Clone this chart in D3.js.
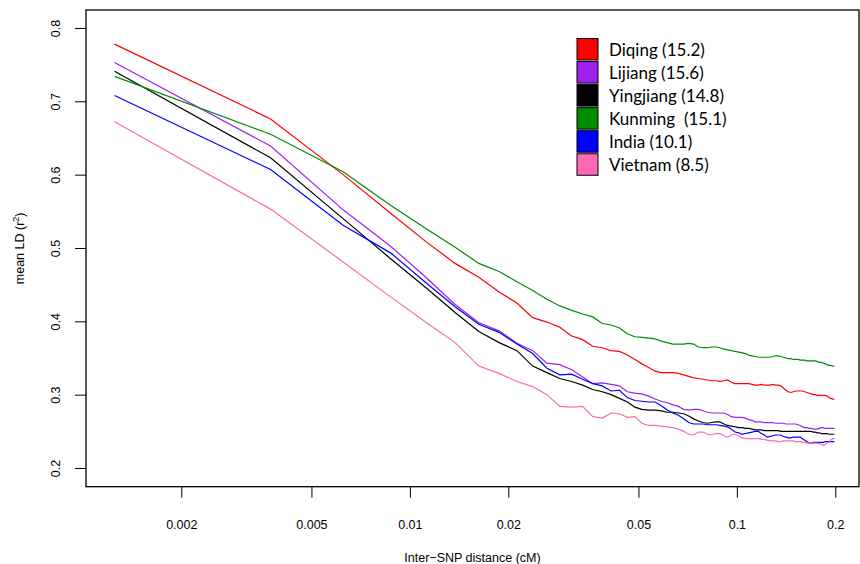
<!doctype html>
<html>
  <head>
    <script src="https://d3js.org/d3.v7.min.js"></script>
    <style>
      body { margin: 0; background: #fff; }
      text { font-family: "Liberation Sans", Arial, sans-serif; fill: #000; }
      .legend text { font-family: Lato, "Open Sans", sans-serif; white-space: pre; }
    </style>
  </head>

  <body>
    <svg class="chart" width=860 height=564></svg>

    <script>
      // bin midpoints (cM)
      var distances = [
        0.00125, 0.00375, 0.00625, 0.00875, 0.01125, 0.01375, 0.01625, 0.01875, 0.02125, 0.02375,
        0.02625, 0.02875, 0.03125, 0.03375, 0.03625, 0.03875, 0.04125, 0.04375, 0.04625, 0.04875,
        0.05125, 0.05375, 0.05625, 0.05875, 0.06125, 0.06375, 0.06625, 0.06875, 0.07125, 0.07375,
        0.07625, 0.07875, 0.08125, 0.08375, 0.08625, 0.08875, 0.09125, 0.09375, 0.09625, 0.09875,
        0.10125, 0.10375, 0.10625, 0.10875, 0.11125, 0.11375, 0.11625, 0.11875, 0.12125, 0.12375,
        0.12625, 0.12875, 0.13125, 0.13375, 0.13625, 0.13875, 0.14125, 0.14375, 0.14625, 0.14875,
        0.15125, 0.15375, 0.15625, 0.15875, 0.16125, 0.16375, 0.16625, 0.16875, 0.17125, 0.17375,
        0.17625, 0.17875, 0.18125, 0.18375, 0.18625, 0.18875, 0.19125, 0.19375, 0.19625, 0.19875
      ];

      var diqing = [
        0.778, 0.676, 0.600, 0.547, 0.508, 0.479, 0.460, 0.440, 0.425, 0.405,
        0.399, 0.392, 0.380, 0.375, 0.366, 0.364, 0.360, 0.359, 0.354, 0.348,
        0.342, 0.337, 0.332, 0.330, 0.330, 0.330, 0.329, 0.327, 0.325, 0.323,
        0.322, 0.321, 0.320, 0.319, 0.319, 0.318, 0.319, 0.320, 0.317, 0.315,
        0.315, 0.315, 0.315, 0.315, 0.314, 0.313, 0.313, 0.314, 0.313, 0.313,
        0.313, 0.314, 0.313, 0.313, 0.312, 0.309, 0.306, 0.304, 0.303, 0.304,
        0.305, 0.305, 0.305, 0.305, 0.304, 0.303, 0.302, 0.301, 0.300, 0.300,
        0.299, 0.299, 0.299, 0.299, 0.299, 0.298, 0.296, 0.295, 0.294, 0.294
      ];
      var lijiang = [
        0.753, 0.639, 0.552, 0.502, 0.459, 0.423, 0.398, 0.387, 0.370, 0.360,
        0.343, 0.341, 0.334, 0.324, 0.315, 0.316, 0.314, 0.312, 0.304, 0.302,
        0.301, 0.298, 0.294, 0.291, 0.289, 0.286, 0.284, 0.280, 0.279, 0.280,
        0.280, 0.278, 0.276, 0.275, 0.275, 0.275, 0.275, 0.273, 0.270, 0.269,
        0.269, 0.269, 0.268, 0.266, 0.265, 0.263, 0.263, 0.263, 0.262, 0.262,
        0.262, 0.262, 0.261, 0.261, 0.261, 0.261, 0.260, 0.260, 0.260, 0.260,
        0.260, 0.259, 0.258, 0.256, 0.255, 0.255, 0.254, 0.254, 0.253, 0.253,
        0.253, 0.254, 0.255, 0.255, 0.254, 0.254, 0.254, 0.254, 0.254, 0.254
      ];
      var yingjiang = [
        0.741, 0.623, 0.540, 0.485, 0.445, 0.412, 0.386, 0.371, 0.360, 0.339,
        0.330, 0.322, 0.318, 0.313, 0.307, 0.304, 0.300, 0.295, 0.290, 0.283,
        0.280, 0.279, 0.279, 0.278, 0.276, 0.276, 0.275, 0.274, 0.271, 0.267,
        0.264, 0.262, 0.261, 0.262, 0.263, 0.263, 0.260, 0.258, 0.257, 0.256,
        0.255, 0.255, 0.254, 0.254, 0.253, 0.252, 0.252, 0.252, 0.251, 0.251,
        0.251, 0.251, 0.251, 0.251, 0.250, 0.250, 0.250, 0.250, 0.250, 0.250,
        0.250, 0.250, 0.250, 0.250, 0.250, 0.250, 0.250, 0.250, 0.249, 0.249,
        0.248, 0.248, 0.247, 0.247, 0.247, 0.247, 0.246, 0.246, 0.246, 0.246
      ];
      var kunming = [
        0.734, 0.655, 0.604, 0.558, 0.526, 0.501, 0.479, 0.468, 0.454, 0.442,
        0.430, 0.421, 0.415, 0.410, 0.406, 0.397, 0.395, 0.391, 0.383, 0.379,
        0.378, 0.377, 0.376, 0.373, 0.371, 0.369, 0.369, 0.369, 0.370, 0.369,
        0.365, 0.364, 0.364, 0.365, 0.365, 0.364, 0.362, 0.361, 0.360, 0.359,
        0.358, 0.357, 0.356, 0.354, 0.353, 0.352, 0.351, 0.351, 0.351, 0.351,
        0.351, 0.352, 0.353, 0.353, 0.352, 0.351, 0.350, 0.349, 0.349, 0.348,
        0.348, 0.348, 0.347, 0.347, 0.347, 0.346, 0.346, 0.346, 0.346, 0.346,
        0.345, 0.344, 0.344, 0.343, 0.342, 0.341, 0.340, 0.340, 0.339, 0.339
      ];
      var india = [
        0.708, 0.607, 0.531, 0.493, 0.452, 0.420, 0.396, 0.385, 0.369, 0.356,
        0.336, 0.327, 0.328, 0.321, 0.315, 0.312, 0.305, 0.306, 0.296, 0.292,
        0.291, 0.290, 0.290, 0.285, 0.279, 0.275, 0.272, 0.267, 0.262, 0.260,
        0.260, 0.260, 0.259, 0.259, 0.259, 0.258, 0.257, 0.256, 0.253, 0.249,
        0.248, 0.246, 0.247, 0.248, 0.249, 0.250, 0.250, 0.247, 0.245, 0.242,
        0.243, 0.244, 0.245, 0.245, 0.245, 0.243, 0.242, 0.241, 0.241, 0.242,
        0.242, 0.242, 0.242, 0.240, 0.238, 0.236, 0.234, 0.234, 0.235, 0.235,
        0.235, 0.235, 0.235, 0.235, 0.236, 0.236, 0.236, 0.236, 0.236, 0.236
      ];
      var vietnam = [
        0.672, 0.553, 0.481, 0.433, 0.398, 0.371, 0.339, 0.329, 0.318, 0.311,
        0.300, 0.284, 0.283, 0.284, 0.270, 0.268, 0.275, 0.274, 0.269, 0.270,
        0.261, 0.258, 0.258, 0.257, 0.256, 0.255, 0.253, 0.250, 0.246, 0.245,
        0.249, 0.249, 0.246, 0.245, 0.247, 0.247, 0.244, 0.242, 0.245, 0.246,
        0.244, 0.241, 0.240, 0.240, 0.240, 0.240, 0.240, 0.239, 0.239, 0.238,
        0.237, 0.237, 0.237, 0.236, 0.236, 0.237, 0.237, 0.237, 0.237, 0.237,
        0.236, 0.236, 0.236, 0.235, 0.235, 0.234, 0.234, 0.234, 0.234, 0.234,
        0.234, 0.233, 0.232, 0.231, 0.232, 0.234, 0.235, 0.238, 0.240, 0.240
      ];

      var labels = ["Diqing (15.2)", "Lijiang (15.6)", "Yingjiang (14.8)", "Kunming  (15.1)", "India (10.1)", "Vietnam (8.5)"];
      var colors = ["#ff0000", "#a020f0", "#000000", "#008b00", "#0000ff", "#ff69b4"];
      var xTicks = [0.002, 0.005, 0.01, 0.02, 0.05, 0.1, 0.2];
      var yTicks = [0.2, 0.3, 0.4, 0.5, 0.6, 0.7, 0.8];

      function draw() {
        var seriesValues = [diqing, lijiang, yingjiang, kunming, india, vietnam];
        var series = seriesValues.map(function(vals, i) {
          return { label: labels[i], color: colors[i],
                   points: vals.map(function(v, j) { return [distances[j], v]; }) };
        });

        var svg = d3.select("svg"),
          pLeft = 86, pRight = 859, pTop = 10, pBottom = 486.7;

        var x = d3.scaleLog().domain([Math.pow(10, -2.9904), Math.pow(10, -0.6265)]).range([pLeft, pRight]);
        var y = d3.scaleLinear().domain([0.1745, 0.8245]).range([pBottom, pTop]);

        svg.append("rect").attr("width", 860).attr("height", 564).attr("fill", "#fff");

        // x axis
        var xa = svg.append("g")
          .attr("transform", "translate(0," + pBottom + ")")
          .call(d3.axisBottom(x).tickValues(xTicks).tickSize(11).tickPadding(22)
                .tickFormat(function(d){ return String(d); }));
        xa.select(".domain").remove();
        xa.selectAll("text").style("font-size", "12.5px").style("font-family", "Liberation Sans, Arial, sans-serif");

        // y axis, labels turned like R's las=0
        var ya = svg.append("g")
          .attr("transform", "translate(" + pLeft + ",0)")
          .call(d3.axisLeft(y).tickValues(yTicks).tickSize(11).tickFormat(d3.format(".1f")));
        ya.select(".domain").remove();
        ya.selectAll("text")
          .style("font-size", "12.5px").style("font-family", "Liberation Sans, Arial, sans-serif")
          .attr("x", null).attr("dy", null).attr("y", 0)
          .attr("text-anchor", "middle")
          .attr("transform", "translate(-26.5,0) rotate(-90)");

        // lines
        var line = d3.line().x(function(d){ return x(d[0]); }).y(function(d){ return y(d[1]); });
        svg.append("g").selectAll("path")
          .data(series)
          .enter().append("path")
          .attr("d", function(d){ return line(d.points); })
          .attr("fill", "none")
          .attr("stroke", function(d){ return d.color; })
          .attr("stroke-width", 1.2);

        // box
        svg.append("rect")
          .attr("x", pLeft).attr("y", pTop)
          .attr("width", pRight - pLeft).attr("height", pBottom - pTop)
          .attr("fill", "none").attr("stroke", "#000").attr("stroke-width", 1.3);

        // axis titles
        svg.append("text")
          .attr("x", (pLeft + pRight) / 2).attr("y", 562)
          .attr("text-anchor", "middle").style("font-size", "12.5px")
          .text("Inter\u2212SNP distance (cM)");

        var yt = svg.append("text")
          .attr("transform", "translate(24," + ((pTop + pBottom) / 2) + ") rotate(-90)")
          .attr("text-anchor", "middle").style("font-size", "12.5px");
        yt.append("tspan").text("mean LD (r");
        yt.append("tspan").attr("dy", -5).style("font-size", "9px").text("2");
        yt.append("tspan").attr("dy", 5).text(")");

        // legend
        var lg = svg.append("g").attr("class", "legend");
        var row = lg.selectAll("g").data(series).enter().append("g")
          .attr("transform", function(d, i){ return "translate(577," + (38.5 + i * 23.05) + ")"; });
        row.append("rect")
          .attr("width", 21).attr("height", 21.5)
          .attr("fill", function(d){ return d.color; })
          .attr("stroke", "#000").attr("stroke-width", 1);
        row.append("text")
          .attr("x", 32).attr("y", 17)
          .style("font-size", "17px")
          .text(function(d){ return d.label; });
      }

      draw();
    </script>
  </body>
</html>
